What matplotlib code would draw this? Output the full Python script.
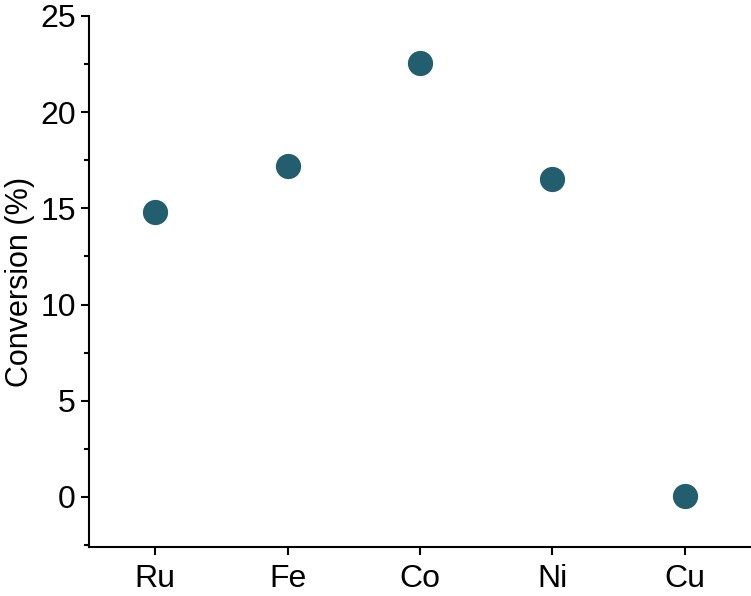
import matplotlib.pyplot as plt
from matplotlib.ticker import MultipleLocator

plt.rcParams['font.family'] = ['Liberation Sans', 'DejaVu Sans']

metals = ['Ru', 'Fe', 'Co', 'Ni', 'Cu']
conversion = [14.8, 17.2, 22.55, 16.55, 0.05]

fig = plt.figure(figsize=(7.51, 5.96), dpi=100)
ax = fig.add_axes([0.1185, 0.0822, 0.8815, 0.891])

ax.scatter(range(len(metals)), conversion, s=330, color='#235e6f', zorder=3, linewidths=0)

ax.set_xlim(-0.5, 4.5)
ax.set_ylim(-2.6, 25)
ax.set_xticks(range(len(metals)))
ax.set_xticklabels(metals)
ax.yaxis.set_major_locator(MultipleLocator(5))
ax.yaxis.set_minor_locator(MultipleLocator(2.5))
ax.spines['top'].set_visible(False)
ax.spines['right'].set_visible(False)
for s in ['left', 'bottom']:
    ax.spines[s].set_linewidth(1.5)
ax.tick_params(axis='both', which='major', length=6, width=1.5, labelsize=23)
ax.tick_params(axis='y', which='minor', length=3.5, width=1.5)
ax.tick_params(axis='x', pad=6)
ax.set_ylabel('Conversion (%)', fontsize=22)

fig.savefig('out.png', dpi=100)
